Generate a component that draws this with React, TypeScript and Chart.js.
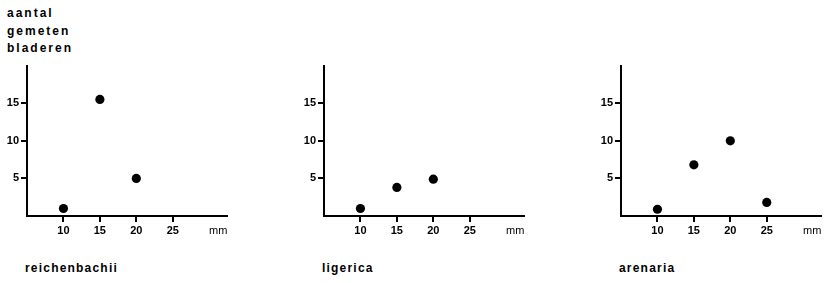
import React, { useEffect, useRef } from 'react';
import { Chart, registerables } from 'chart.js';

Chart.register(...registerables);

// ---- data ----
const yAxisTitleLines = ['aantal', 'gemeten', 'bladeren'];
const xUnit = 'mm';
const xTicks = [10, 15, 20, 25];
const yTicks = [5, 10, 15];
const speciesNames = ['reichenbachii', 'ligerica', 'arenaria'];

const reichenbachiiX = [10, 15, 20];
const reichenbachiiY = [1, 15.5, 5];
const ligericaX = [10, 15, 20];
const ligericaY = [1, 3.8, 4.9];
const arenariaX = [10, 15, 20, 25];
const arenariaY = [0.9, 6.8, 10, 1.8];

const seriesX = [reichenbachiiX, ligericaX, arenariaX];
const seriesY = [reichenbachiiY, ligericaY, arenariaY];

const FONT = '"Liberation Sans", Arial, Helvetica, sans-serif';
const panelLefts = [0, 297, 594];
const speciesLabelLefts = [25, 322, 619];
const TICK_LEN = 6;

// draws short outward tick marks at each tick of the x and y scales
const tickMarksPlugin = {
  id: 'tickMarks',
  afterDraw(chart: any) {
    const { ctx, chartArea, scales } = chart;
    ctx.save();
    ctx.strokeStyle = '#000';
    ctx.lineWidth = 2;
    ctx.lineCap = 'butt';
    for (const t of scales.x.ticks) {
      const px = Math.round(scales.x.getPixelForValue(t.value));
      ctx.beginPath();
      ctx.moveTo(px, chartArea.bottom);
      ctx.lineTo(px, chartArea.bottom + TICK_LEN);
      ctx.stroke();
    }
    for (const t of scales.y.ticks) {
      const py = Math.round(scales.y.getPixelForValue(t.value));
      ctx.beginPath();
      ctx.moveTo(chartArea.left - TICK_LEN, py);
      ctx.lineTo(chartArea.left, py);
      ctx.stroke();
    }
    ctx.restore();
  },
};

function Panel({ xs, ys, left }: { xs: number[]; ys: number[]; left: number }) {
  const ref = useRef<HTMLCanvasElement | null>(null);
  useEffect(() => {
    if (!ref.current) return;
    const tickFont = { family: FONT, size: 11, weight: 'bold' as const };
    const chart = new Chart(ref.current, {
      type: 'scatter',
      data: {
        datasets: [
          {
            data: xs.map((x, i) => ({ x, y: ys[i] })),
            backgroundColor: '#000',
            borderWidth: 0,
            pointRadius: 4.6,
            pointHoverRadius: 4.6,
          },
        ],
      },
      plugins: [tickMarksPlugin],
      options: {
        responsive: false,
        animation: false,
        events: [],
        layout: { padding: { top: 0, right: 1, bottom: 0, left: 0 } },
        plugins: { legend: { display: false }, tooltip: { enabled: false } },
        scales: {
          x: {
            type: 'linear',
            min: 5,
            max: 32.5,
            afterBuildTicks: (s: any) => {
              s.ticks = xTicks.map((v) => ({ value: v }));
            },
            afterFit: (s: any) => {
              s.height = 22;
            },
            ticks: { font: tickFont, color: '#000', padding: 0, maxRotation: 0 },
            grid: { display: false, drawTicks: true, tickLength: 8 },
            border: { display: true, color: '#000', width: 2 },
            title: {
              display: true,
              text: xUnit,
              align: 'end',
              padding: 0,
              font: { family: FONT, size: 11, weight: 'normal' as const },
              color: '#000',
            },
          },
          y: {
            type: 'linear',
            min: 0,
            max: 20,
            afterBuildTicks: (s: any) => {
              s.ticks = yTicks.map((v) => ({ value: v }));
            },
            afterFit: (s: any) => {
              s.width = 27;
            },
            ticks: { font: tickFont, color: '#000', padding: 0 },
            grid: { display: false, drawTicks: true, tickLength: 8 },
            border: { display: true, color: '#000', width: 2 },
          },
        },
      },
    });
    return () => chart.destroy();
  }, [xs, ys]);
  return (
    <canvas
      ref={ref}
      width={232}
      height={179}
      style={{ position: 'absolute', left, top: 59, width: 232, height: 179 }}
    />
  );
}

export default function App() {
  return (
    <div
      style={{
        position: 'absolute',
        left: 0,
        top: 0,
        width: 827,
        height: 283,
        overflow: 'hidden',
        background: '#fff',
      }}
    >
      <div
        style={{
          position: 'absolute',
          left: 7,
          top: 5.4,
          fontFamily: FONT,
          fontWeight: 'bold',
          fontSize: 12,
          lineHeight: '17.5px',
          letterSpacing: 2,
          color: '#000',
          whiteSpace: 'nowrap',
        }}
      >
        {yAxisTitleLines.map((l) => (
          <div key={l}>{l}</div>
        ))}
      </div>
      {speciesNames.map((name, i) => (
        <Panel key={name} xs={seriesX[i]} ys={seriesY[i]} left={panelLefts[i]} />
      ))}
      {speciesNames.map((name, i) => (
        <div
          key={'l' + name}
          style={{
            position: 'absolute',
            left: speciesLabelLefts[i],
            top: 260.4,
            fontFamily: FONT,
            fontWeight: 'bold',
            fontSize: 12,
            lineHeight: '17.5px',
            letterSpacing: 1.2,
            color: '#000',
            whiteSpace: 'nowrap',
          }}
        >
          {name}
        </div>
      ))}
    </div>
  );
}
